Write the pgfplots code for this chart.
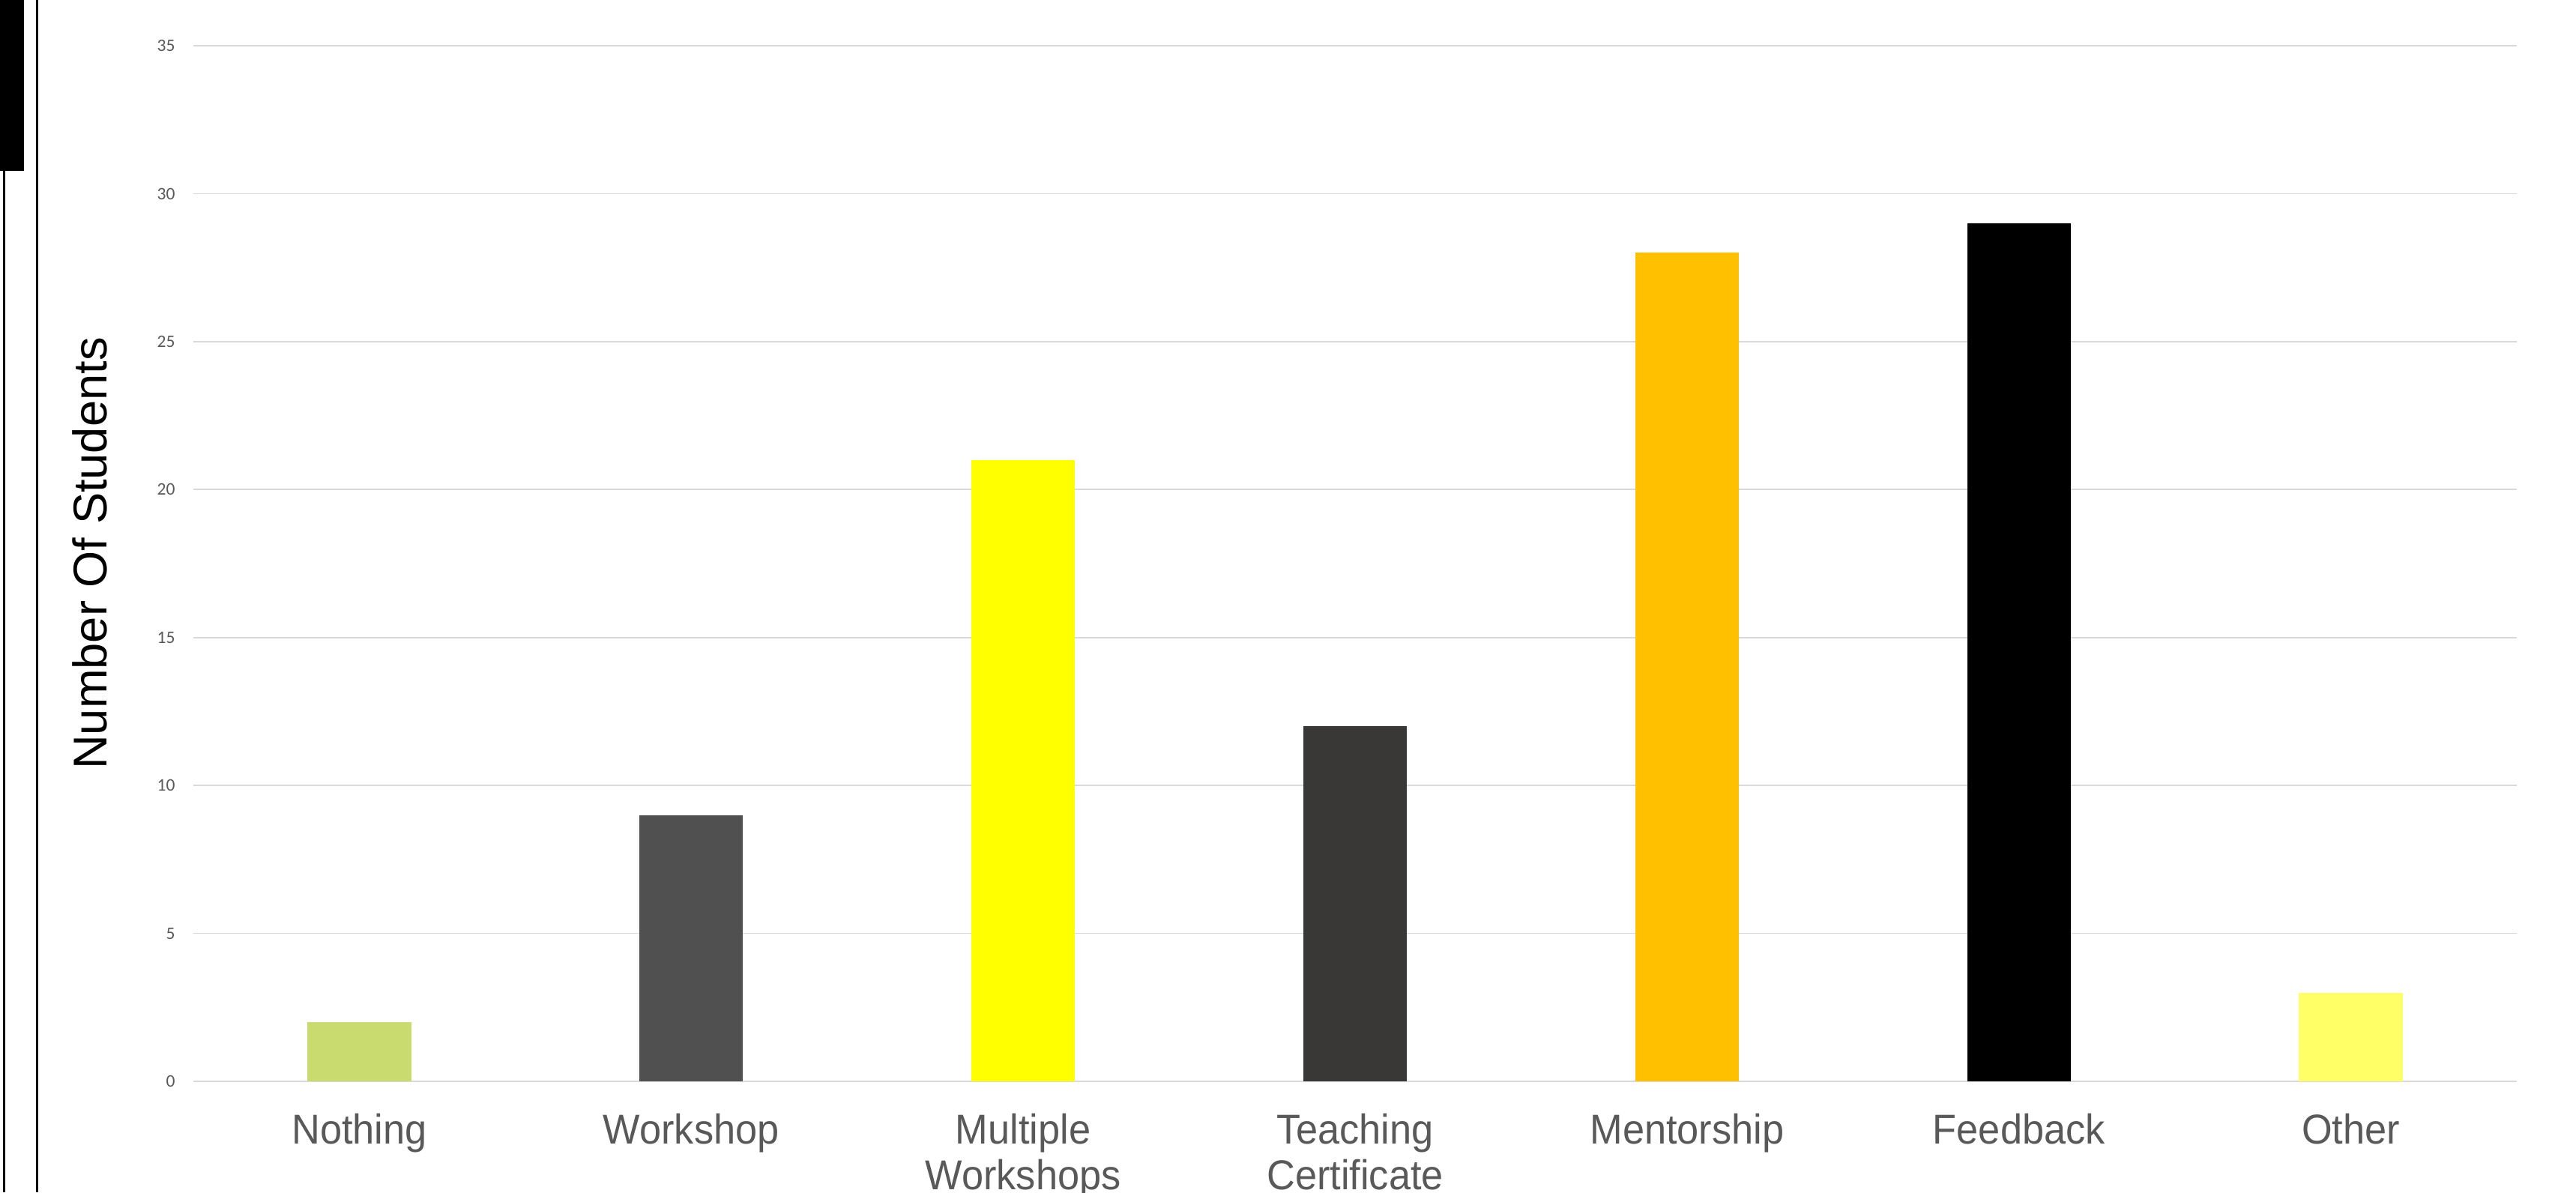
\documentclass[border=0pt]{standalone}
\usepackage{fontspec}
\setmainfont{Liberation Sans}
\newfontfamily\calibri{Carlito}
\usepackage{pgfplots}
\pgfplotsset{compat=1.18}
\definecolor{txtgray}{HTML}{595959}
\definecolor{gridgray}{HTML}{D9D9D9}
\definecolor{cNothing}{HTML}{C9DB6E}
\definecolor{cWorkshop}{HTML}{505050}
\definecolor{cMultiple}{HTML}{FFFF00}
\definecolor{cTeaching}{HTML}{3A3836}
\definecolor{cMentor}{HTML}{FFC000}
\definecolor{cFeedback}{HTML}{000000}
\definecolor{cOther}{HTML}{FFFF66}
\begin{document}
\begin{tikzpicture}
\path[use as bounding box] (-37.53pt,-21.53pt) rectangle (462.47pt,209.92pt);
\draw[line width=0.44pt] (-36.80pt,-21.53pt) -- (-36.80pt,209.92pt);
\draw[line width=0.44pt] (-30.37pt,-21.53pt) -- (-30.37pt,209.92pt);
\fill[black] (-37.53pt,176.75pt) rectangle (-32.87pt,209.92pt);
\begin{axis}[
  at={(0pt,0pt)}, anchor=south west,
  scale only axis, width=450.98pt, height=201.05pt,
  xmin=-0.5, xmax=6.5, ymin=0, ymax=35,
  ytick={0,5,10,15,20,25,30,35},
  xtick={0,1,2,3,4,5,6},
  xticklabels={Nothing,Workshop,{Multiple\\Workshops},{Teaching\\Certificate},Mentorship,Feedback,Other},
  axis line style={draw=none},
  major tick length=0pt, tick style={draw=none},
  ymajorgrids, major grid style={color=gridgray, line width=0.25pt},
  /pgf/number format/assume math mode=true,
  yticklabel style={font=\calibri\fontsize{3.42}{4}\selectfont, text=txtgray, anchor=east, inner sep=0pt, xshift=-3.35pt},
  xticklabel style={font=\fontsize{8.1}{8.9}\selectfont, text=txtgray, align=center, anchor=north, inner sep=0pt, yshift=-6.1pt, xscale=0.94},
  clip=false,
  ybar, bar width=0.3125,
]
\addplot[fill=cNothing, draw=none, bar shift=0pt] coordinates {(0,2)};
\addplot[fill=cWorkshop, draw=none, bar shift=0pt] coordinates {(1,9)};
\addplot[fill=cMultiple, draw=none, bar shift=0pt] coordinates {(2,21)};
\addplot[fill=cTeaching, draw=none, bar shift=0pt] coordinates {(3,12)};
\addplot[fill=cMentor, draw=none, bar shift=0pt] coordinates {(4,28)};
\addplot[fill=cFeedback, draw=none, bar shift=0pt] coordinates {(5,29)};
\addplot[fill=cOther, draw=none, bar shift=0pt] coordinates {(6,3)};
\node[rotate=90, anchor=center, inner sep=0pt, font=\fontsize{9.2}{11}\selectfont, text=black] at (rel axis cs:-0.04457,0.5098) {Number Of Students};
\end{axis}
\end{tikzpicture}
\end{document}
